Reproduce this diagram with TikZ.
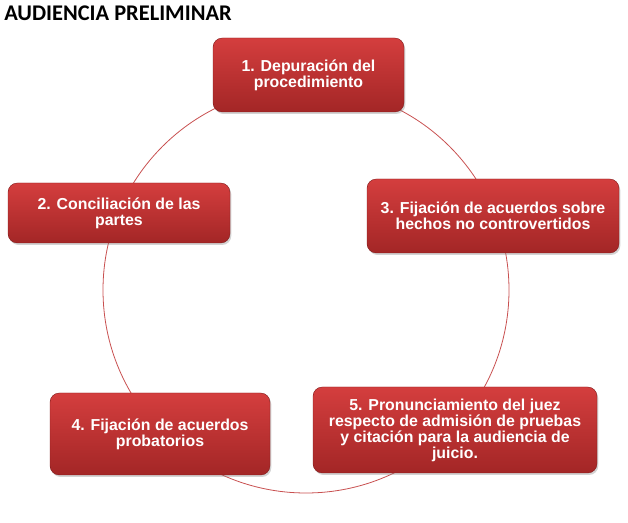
\documentclass[tikz,border=0pt]{standalone}
\usepackage{fontspec}
\setmainfont{Liberation Sans}
\newfontfamily\titlefont{Carlito}
\usetikzlibrary{shadows}
\definecolor{boxtop}{RGB}{212,62,62}
\definecolor{boxbot}{RGB}{163,38,38}
\definecolor{ringcol}{RGB}{200,80,80}
\tikzset{
  stepbox/.style={rounded corners=7pt, top color=boxtop, bottom color=boxbot,
    draw=boxbot!80!black, line width=0.3pt,
    drop shadow={opacity=0.35, shadow xshift=1pt, shadow yshift=-1.5pt},
    text=white, font=\bfseries\fontsize{11.9}{12}\selectfont, align=center, inner sep=2pt},
  ringstyle/.style={circle, draw=ringcol, line width=0.6pt, inner sep=0pt}
}
\begin{document}
\begin{tikzpicture}[x=0.75pt,y=-0.75pt]
\useasboundingbox (0,0) rectangle (628,523);
\node[ringstyle, minimum size=304.5pt] (ring) at (306,290) {};
\node[stepbox, minimum width=143.25pt, minimum height=55.5pt] (b1) at (308.5,75) {1. Depuración del\\procedimiento};
\node[stepbox, minimum width=166.5pt, minimum height=45pt] (b2) at (119,213) {2. Conciliación de las\\partes};
\node[stepbox, minimum width=189pt, minimum height=55.5pt] (b3) at (493,216) {3. Fijación de acuerdos sobre\\hechos no controvertidos};
\node[stepbox, minimum width=165pt, minimum height=61.5pt] (b4) at (160,434) {4. Fijación de acuerdos\\probatorios};
\node[stepbox, minimum width=213pt, minimum height=64.5pt] (b5) at (455,430) {5. Pronunciamiento del juez\\respecto de admisión de pruebas\\y citación para la audiencia de\\juicio.};
\node[anchor=base west, inner sep=0pt, font=\titlefont\bfseries\fontsize{16.8}{18}\selectfont] (title) at (4,21) {AUDIENCIA PRELIMINAR};
\end{tikzpicture}
\end{document}
